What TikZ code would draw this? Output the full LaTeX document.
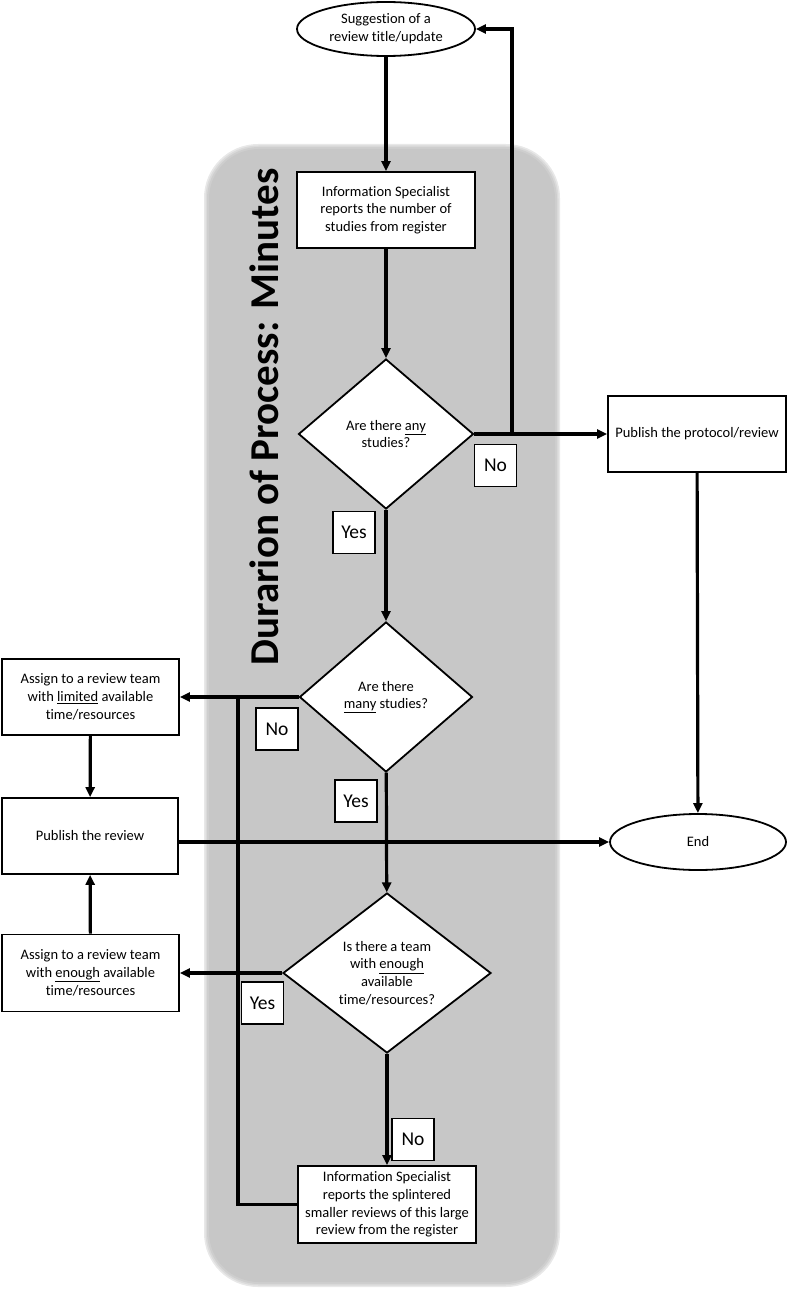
\documentclass[tikz,border=0pt]{standalone}
\usepackage{fontspec}
\setmainfont{Carlito}[Ligatures={NoCommon}]
\usetikzlibrary{shapes.geometric,arrows.meta}
\definecolor{bgA}{RGB}{232,232,232}
\definecolor{bgB}{RGB}{218,218,218}
\definecolor{bgC}{RGB}{206,206,206}
\definecolor{bgD}{RGB}{199,199,199}
\tikzset{
  every node/.style={font=\fontsize{14.5}{17.7}\selectfont},
  box/.style={draw=black, line width=1.8pt, fill=white, rectangle, align=center, inner sep=0pt},
  oval/.style={draw=black, line width=1.8pt, fill=white, ellipse, align=center, inner sep=0pt},
  dia/.style={draw=black, line width=1.8pt, fill=white, diamond, align=center, inner sep=0pt},
  lbl/.style={draw=black, line width=1.5pt, fill=white, rectangle, inner sep=0pt,
              minimum width=42pt, minimum height=42pt, font=\fontsize{19.5}{20}\selectfont},
  conn/.style={line width=3.2pt},
  arr/.style={line width=3.2pt, -{Triangle[length=10pt,width=9pt]}},
}
\begin{document}
\begin{tikzpicture}[x=1pt,y=-1pt]
\useasboundingbox (0,0) rectangle (788,1292);
% background panel
\fill[bgA, rounded corners=54pt] (204,144) rectangle (560,1287);
\fill[bgB, rounded corners=53pt] (205.5,145.5) rectangle (558.5,1285.5);
\fill[bgC, rounded corners=52pt] (207,147) rectangle (557,1284);
\fill[bgD, rounded corners=50pt] (209,149) rectangle (555,1282);
\node[rotate=90, font=\bfseries\fontsize{41}{41}\selectfont] (title) at (264,417) {Durarion of Process: Minutes};

% nodes
\node[oval, minimum width=178pt, minimum height=54pt] (start) at (386,29) {Suggestion of a\\review title/update};
\node[box, minimum width=178pt, minimum height=76pt] (is1) at (386,210) {Information Specialist\\reports the number of\\studies from register};
\node[dia, minimum width=175pt, minimum height=150pt] (d1) at (386,434) {Are there \underline{any}\\studies?};
\node[box, minimum width=178pt, minimum height=76pt] (prot) at (697,434) {Publish the protocol/review};
\node[dia, minimum width=173pt, minimum height=150pt] (d2) at (386,697) {Are there\\\underline{many} studies?};
\node[box, minimum width=177pt, minimum height=76pt] (lim) at (90.5,697) {Assign to a review team\\with \underline{limited} available\\time/resources};
\node[box, minimum width=176pt, minimum height=76pt] (pub) at (90,836) {Publish the review};
\node[oval, minimum width=176pt, minimum height=56pt] (endn) at (698,842) {End};
\node[dia, minimum width=208pt, minimum height=150pt] (d3) at (387,973) {Is there a team\\with \underline{enough}\\available\\time/resources?};
\node[box, minimum width=177pt, minimum height=77pt] (eno) at (90.5,973) {Assign to a review team\\with \underline{enough} available\\time/resources};
\node[box, minimum width=178pt, minimum height=77pt] (is2) at (387,1204.5) {Information Specialist\\reports the splintered\\smaller reviews of this large\\review from the register};

% connectors
\coordinate (fb) at (512,434);
\coordinate (jn) at (238,697);
\draw[arr] (start) -- (is1);
\draw[arr] (is1) -- (d1);
\draw[arr] (d1.east) -- (prot.west);
\draw[arr] (fb) |- (start.east);
\draw[arr] (d1) -- (d2);
\draw[arr] (d2.west) -- (lim.east);
\draw[arr] (d2) -- (d3);
\draw[arr] (d3.west) -- (eno.east);
\draw[arr] (d3) -- (is2);
\draw[conn] (is2.west) -| (jn);
\draw[arr] (lim) -- (pub);
\draw[arr] (eno) -- (pub);
\draw[arr] (pub.east |- endn.west) -- (endn.west);
\draw[arr] (prot) -- (endn);

% labels
\node[lbl] (no1) at (495.5,465.5) {No};
\node[lbl] (yes1) at (354,532.5) {Yes};
\node[lbl] (no2) at (277,729) {No};
\node[lbl] (yes2) at (356,801) {Yes};
\node[lbl] (yes3) at (262.5,1003) {Yes};
\node[lbl] (no3) at (413,1139.5) {No};
\end{tikzpicture}
\end{document}
